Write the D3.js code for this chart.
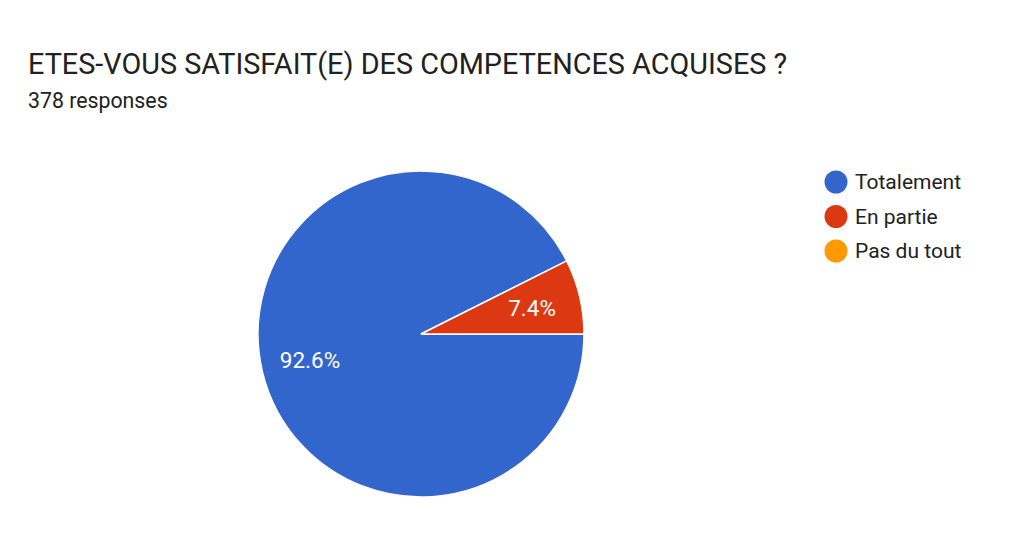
<!DOCTYPE html>
<html>
<head>
<meta charset="utf-8">
<script src="https://cdn.jsdelivr.net/npm/d3@7"></script>
<style>
  body { margin: 0; background: #fff; }
  text { font-family: Roboto, "Open Sans", sans-serif; }
</style>
</head>
<body>
<div id="chart"></div>
<script>
// chart data
var categories = ['Totalement', 'En partie', 'Pas du tout'];
var percents = [92.6, 7.4, 0];
var colors = ['#3366cc', '#dc3912', '#ff9900'];

var width = 1024, height = 539;

var svg = d3.select('#chart').append('svg')
    .attr('width', width)
    .attr('height', height)
    .attr('viewBox', '0 0 ' + width + ' ' + height);

// title block
svg.append('text')
    .attr('x', 28).attr('y', 74)
    .attr('font-size', 28.8)
    .attr('fill', '#212121')
    .text('ETES-VOUS SATISFAIT(E) DES COMPETENCES ACQUISES ?');

svg.append('text')
    .attr('x', 28).attr('y', 108)
    .attr('font-size', 21.3)
    .attr('fill', '#212121')
    .text('378 responses');

// pie
var cx = 421, cy = 334, radius = 163;
var pie = d3.pie().sort(null)
    .startAngle(Math.PI / 2)
    .endAngle(Math.PI / 2 + 2 * Math.PI);
var arcs = pie(percents);
var arc = d3.arc().innerRadius(0).outerRadius(radius);
var labelArc = d3.arc().innerRadius(radius * 0.7).outerRadius(radius * 0.7);

var g = svg.append('g').attr('transform', 'translate(' + cx + ',' + cy + ')');

g.selectAll('path')
    .data(arcs.filter(function(d){ return d.value > 0; }))
    .enter().append('path')
    .attr('d', arc)
    .attr('fill', function(d){ return colors[d.index]; })
    .attr('stroke', '#fff')
    .attr('stroke-width', 1.5);

g.selectAll('text.lbl')
    .data(arcs.filter(function(d){ return d.value > 0; }))
    .enter().append('text')
    .attr('class', 'lbl')
    .attr('transform', function(d){ return 'translate(' + labelArc.centroid(d) + ')'; })
    .attr('text-anchor', 'middle')
    .attr('dy', '0.35em')
    .attr('font-size', 22.5)
    .attr('fill', '#fff')
    .text(function(d){ return d.value.toFixed(1) + '%'; });

// legend
var legend = svg.append('g');
var item = legend.selectAll('g')
    .data(categories)
    .enter().append('g')
    .attr('transform', function(d, i){ return 'translate(836,' + (182 + i * 34.5) + ')'; });

item.append('circle')
    .attr('r', 11.5)
    .attr('fill', function(d, i){ return colors[i]; });

item.append('text')
    .attr('x', 19)
    .attr('dy', '0.35em')
    .attr('font-size', 21)
    .attr('fill', '#212121')
    .text(function(d){ return d; });
</script>
</body>
</html>
